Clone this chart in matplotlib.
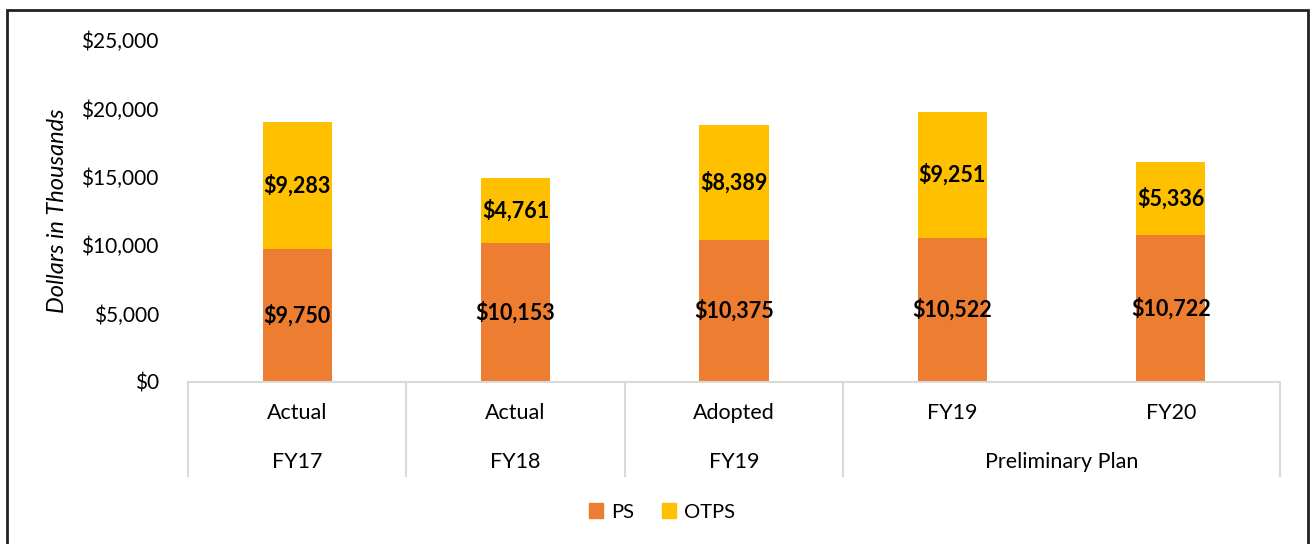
import matplotlib
matplotlib.use('Agg')
from matplotlib import pyplot as plt
from matplotlib.patches import Rectangle, Patch
import matplotlib.transforms as mtransforms
import numpy as np

plt.rcParams['font.family'] = ['Lato', 'DejaVu Sans']

# data
inner_labels = ['Actual', 'Actual', 'Adopted', 'FY19', 'FY20']
groups = [('FY17', 0, 1), ('FY18', 1, 2), ('FY19', 2, 3), ('Preliminary Plan', 3, 5)]
ps = [9750, 10153, 10375, 10522, 10722]
otps = [9283, 4761, 8389, 9251, 5336]

ps_color = '#ED7D31'
otps_color = '#FFC000'
grid_color = '#D9D9D9'

W, H = 1312, 544
fig = plt.figure(figsize=(W / 100, H / 100), dpi=100)
ax = fig.add_axes([188 / W, 1 - 382 / H, (1280 - 188) / W, (382 - 40) / H])

x = np.arange(len(ps))
b1 = ax.bar(x, ps, width=0.316, color=ps_color)
b2 = ax.bar(x, otps, width=0.316, bottom=ps, color=otps_color)
fmt = lambda v: f'${v:,.0f}'
for bars in (b1, b2):
    ax.bar_label(bars, labels=[fmt(b.get_height()) for b in bars], label_type='center',
                 fontsize=15.5, fontweight='bold', color='black')

ax.set_xlim(-0.5, len(ps) - 0.5)
ax.set_ylim(0, 25000)
ax.set_yticks(np.arange(0, 25001, 5000))
ax.set_yticklabels([fmt(v) for v in np.arange(0, 25001, 5000)])
ax.tick_params(axis='y', length=0, pad=21, labelsize=15, labelcolor='#000000')
ax.set_xticks([])
for s in ['top', 'right', 'left']:
    ax.spines[s].set_visible(False)
ax.spines['bottom'].set_color(grid_color)
ax.spines['bottom'].set_linewidth(1.5)

ax.set_ylabel('Dollars in Thousands', fontsize=17, fontstyle='italic')
ax.yaxis.set_label_coords((68 - 188) / (1280 - 188), 0.5)

# multi-level category axis
trans = mtransforms.blended_transform_factory(ax.transData, ax.transAxes)
ah = 382 - 40
row1_y = -31 / ah
row2_y = -80 / ah
line_bot = -94 / ah
for i, lab in enumerate(inner_labels):
    ax.text(i, row1_y, lab, transform=trans, ha='center', va='center', fontsize=15.5)
edges = set()
for name, start, end in groups:
    ax.text((start + end - 1) / 2, row2_y, name, transform=trans, ha='center', va='center', fontsize=15.5)
    edges.add(start - 0.5)
    edges.add(end - 0.5)
for e in sorted(edges):
    ax.plot([e, e], [0, line_bot], transform=trans, color=grid_color, lw=1.5, clip_on=False)

handles = [Patch(color=ps_color, label='PS'), Patch(color=otps_color, label='OTPS')]
fig.legend(handles=handles, loc='center', bbox_to_anchor=(662 / W, 1 - 512 / H), ncol=2,
           frameon=False, fontsize=14.5, handlelength=0.7, handleheight=0.7,
           handletextpad=0.4, columnspacing=1.4)

# outer border
fig.patches.append(Rectangle((7 / W, -0.05), (1308 - 7) / W, 1.05 - 10 / H, transform=fig.transFigure,
                             fill=False, edgecolor='#222222', lw=2))

fig.savefig('out.png', dpi=100)
